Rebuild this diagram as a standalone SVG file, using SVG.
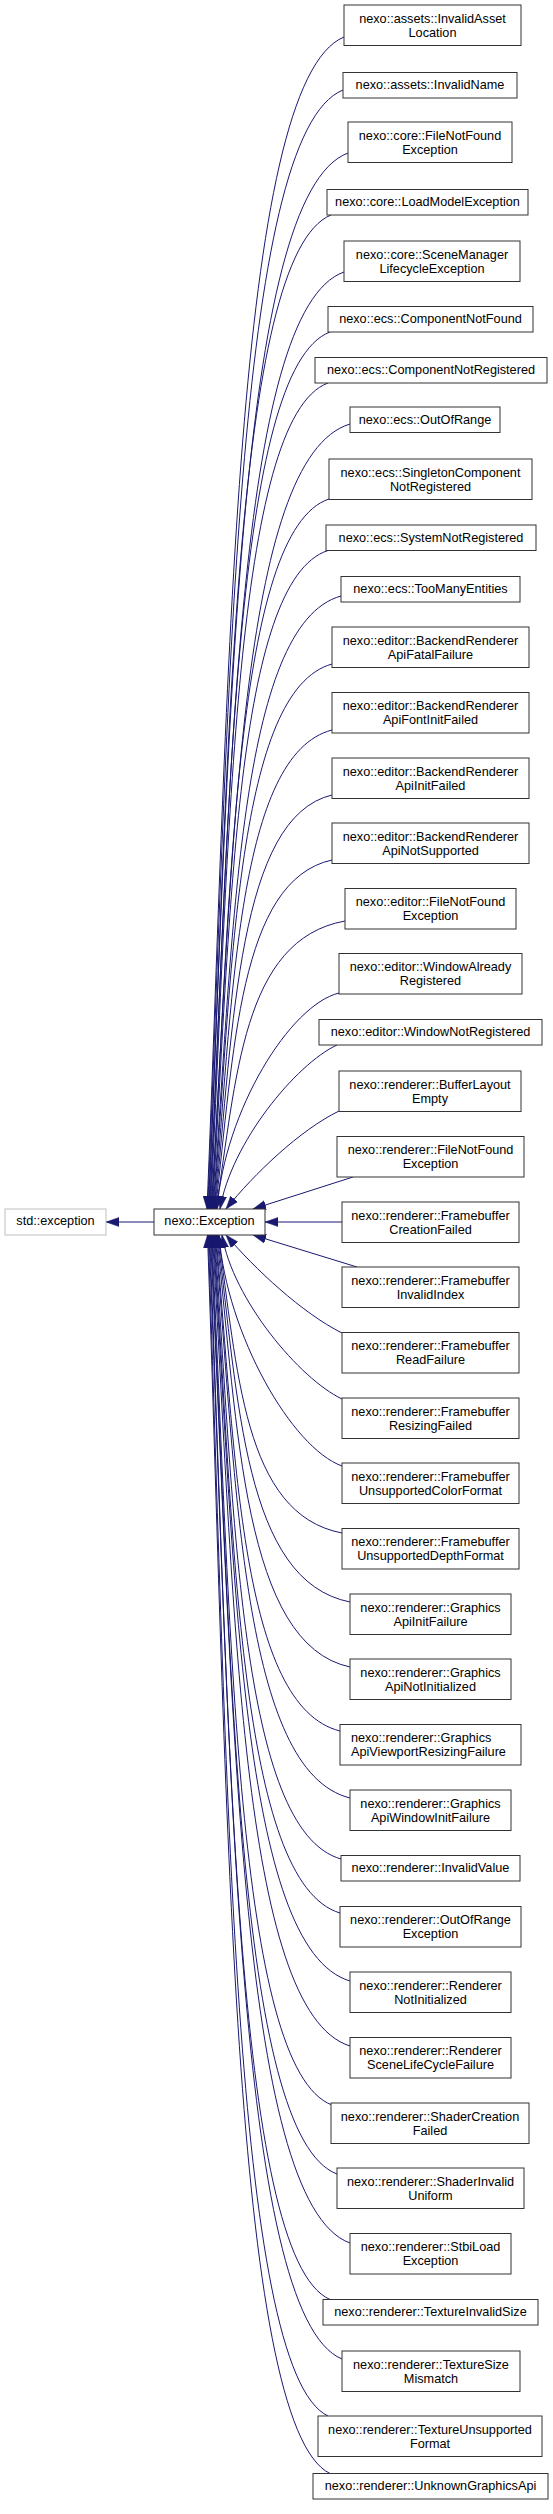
<svg xmlns="http://www.w3.org/2000/svg" width="553" height="2514" viewBox="0 0 553 2514">
<style>
.n{fill:#fff;stroke:#333;stroke-width:1}
.x{fill:#fff;stroke:#bfbfbf;stroke-width:1}
.t{font-family:"Liberation Sans",Arial,Helvetica,sans-serif;font-size:12.7px;fill:#000;text-anchor:middle}
.l{text-anchor:start}
.e path{fill:none;stroke:#191970;stroke-width:1;marker-end:url(#ah)}
</style>
<defs>
<marker id="ah" markerUnits="userSpaceOnUse" markerWidth="13" markerHeight="10" viewBox="0 0 13 10" refX="13" refY="5" orient="auto">
<path d="M0,0.5 L13,5 L0,9.5 z" fill="#191970" stroke="#191970" stroke-width="0.5"/>
</marker>
</defs>
<rect width="553" height="2514" fill="#fff"/>
<g class="e" id="edges">
<path d="M154,1222 L106,1222"/>
<path d="M344,37 C234.4,82.2 228.9,681.6 207,1209"/>
<path d="M343,90 C234.7,133.6 229.3,705.4 207.6,1209"/>
<path d="M348,153 C236.2,194.7 230.6,733.8 208.2,1209"/>
<path d="M331,215 C233.2,254.8 228.4,761.7 208.8,1209"/>
<path d="M344,272 C236.3,310.1 230.9,787.3 209.4,1209"/>
<path d="M330,332 C234,368.3 229.2,814.3 210,1209"/>
<path d="M328,383 C234.1,417.8 229.4,837.3 210.6,1209"/>
<path d="M350,424 C239,457.6 233.4,855.7 211.2,1209"/>
<path d="M329,499 C235.2,530.3 230.6,889.5 211.8,1209"/>
<path d="M328,550.5 C235.5,580.3 230.9,912.7 212.4,1209"/>
<path d="M341,596 C238.6,624.4 233.5,933.1 213,1209"/>
<path d="M332,664 C237.3,690.4 232.5,963.7 213.6,1209"/>
<path d="M332,730 C237.8,754.4 233,993.4 214.2,1209"/>
<path d="M332,795 C238.2,817.4 233.6,1022.7 214.8,1209"/>
<path d="M332,860 C238.7,880.5 234.1,1052 215.4,1209"/>
<path d="M345,921 C241.8,939.6 236.6,1079.4 216,1209"/>
<path d="M339,993 C290,1005 225,1110 217,1209"/>
<path d="M337,1045 C296,1064 231,1143 220,1209"/>
<path d="M339,1111 C300,1130 254,1174 226,1209"/>
<path d="M353,1177 L253,1209"/>
<path d="M342,1222 L265,1222"/>
<path d="M357,1267 L253,1235"/>
<path d="M342,1333 C302,1313 255,1269 226,1235"/>
<path d="M342,1399 C300,1379 233,1300 222,1235"/>
<path d="M342,1466 C292,1448 227,1335 219,1235"/>
<path d="M342,1533 C242.8,1514.1 237.8,1369.1 218,1235"/>
<path d="M350,1602 C243.8,1581 238.5,1400.2 217.3,1235"/>
<path d="M350,1667 C243.3,1644 238,1429.4 216.6,1235"/>
<path d="M340,1731 C240.7,1706.1 235.8,1458.2 215.9,1235"/>
<path d="M350,1798 C242.2,1771.1 236.8,1488.4 215.2,1235"/>
<path d="M341,1859 C239.8,1830.3 234.7,1515.8 214.5,1235"/>
<path d="M340,1913 C239,1882.7 234,1540.1 213.8,1235"/>
<path d="M350,1981 C240.5,1948.6 235,1570.7 213.1,1235"/>
<path d="M350,2046 C239.9,2011.7 234.4,1600 212.4,1235"/>
<path d="M332,2105 C235.8,2068.9 230.9,1626.5 211.7,1235"/>
<path d="M337,2174 C236.2,2135.8 231.2,1657.6 211,1235"/>
<path d="M350,2243 C238.2,2202.8 232.7,1688.6 210.3,1235"/>
<path d="M330,2299.5 C233.7,2257.6 228.9,1714 209.6,1235"/>
<path d="M342,2359 C235.5,2315.3 230.2,1740.8 208.9,1235"/>
<path d="M328,2416 C232.2,2370.6 227.4,1766.5 208.2,1235"/>
<path d="M330,2473.5 C232,2426.3 227.1,1792.3 207.5,1235"/>
</g>
<g id="std_exception"><rect class="x" x="5" y="1209" width="101" height="26"/><text class="t" x="55.5" y="1225.3">std::exception</text></g>
<g id="nexo_Exception"><rect class="n" x="154" y="1209" width="111" height="26"/><text class="t" x="209.5" y="1225.3">nexo::Exception</text></g>
<g id="node1"><rect class="n" x="344" y="5" width="177" height="40.5"/><text class="t" x="432.5" y="22.6">nexo::assets::InvalidAsset</text><text class="t" x="432.5" y="36.6">Location</text></g>
<g id="node2"><rect class="n" x="343" y="72.5" width="174" height="25.5"/><text class="t" x="430" y="89.3">nexo::assets::InvalidName</text></g>
<g id="node3"><rect class="n" x="348" y="122" width="164" height="40.5"/><text class="t" x="430" y="139.6">nexo::core::FileNotFound</text><text class="t" x="430" y="153.6">Exception</text></g>
<g id="node4"><rect class="n" x="327" y="189.5" width="201" height="25.5"/><text class="t" x="427.5" y="206.3">nexo::core::LoadModelException</text></g>
<g id="node5"><rect class="n" x="344" y="241" width="176" height="40.5"/><text class="t" x="432" y="258.6">nexo::core::SceneManager</text><text class="t" x="432" y="272.6">LifecycleException</text></g>
<g id="node6"><rect class="n" x="328" y="306.5" width="205" height="25.5"/><text class="t" x="430.5" y="323.3">nexo::ecs::ComponentNotFound</text></g>
<g id="node7"><rect class="n" x="315" y="357.5" width="232" height="25.5"/><text class="t" x="431" y="374.3">nexo::ecs::ComponentNotRegistered</text></g>
<g id="node8"><rect class="n" x="350" y="407" width="150" height="25.5"/><text class="t" x="425" y="423.8">nexo::ecs::OutOfRange</text></g>
<g id="node9"><rect class="n" x="329" y="459" width="203" height="40.5"/><text class="t" x="430.5" y="476.6">nexo::ecs::SingletonComponent</text><text class="t" x="430.5" y="490.6">NotRegistered</text></g>
<g id="node10"><rect class="n" x="326" y="525" width="210" height="25.5"/><text class="t" x="431" y="541.8">nexo::ecs::SystemNotRegistered</text></g>
<g id="node11"><rect class="n" x="341" y="576.5" width="179" height="25.5"/><text class="t" x="430.5" y="593.3">nexo::ecs::TooManyEntities</text></g>
<g id="node12"><rect class="n" x="332" y="627" width="197" height="40.5"/><text class="t" x="430.5" y="644.6">nexo::editor::BackendRenderer</text><text class="t" x="430.5" y="658.6">ApiFatalFailure</text></g>
<g id="node13"><rect class="n" x="332" y="692.5" width="197" height="40.5"/><text class="t" x="430.5" y="710.1">nexo::editor::BackendRenderer</text><text class="t" x="430.5" y="724.1">ApiFontInitFailed</text></g>
<g id="node14"><rect class="n" x="332" y="758" width="197" height="40.5"/><text class="t" x="430.5" y="775.6">nexo::editor::BackendRenderer</text><text class="t" x="430.5" y="789.6">ApiInitFailed</text></g>
<g id="node15"><rect class="n" x="332" y="823" width="197" height="40.5"/><text class="t" x="430.5" y="840.6">nexo::editor::BackendRenderer</text><text class="t" x="430.5" y="854.6">ApiNotSupported</text></g>
<g id="node16"><rect class="n" x="345" y="888.5" width="171" height="40.5"/><text class="t" x="430.5" y="906.1">nexo::editor::FileNotFound</text><text class="t" x="430.5" y="920.1">Exception</text></g>
<g id="node17"><rect class="n" x="339" y="953.5" width="183" height="40.5"/><text class="t" x="430.5" y="971.1">nexo::editor::WindowAlready</text><text class="t" x="430.5" y="985.1">Registered</text></g>
<g id="node18"><rect class="n" x="319" y="1019.5" width="223" height="25.5"/><text class="t" x="430.5" y="1036.3">nexo::editor::WindowNotRegistered</text></g>
<g id="node19"><rect class="n" x="339" y="1071" width="182" height="40.5"/><text class="t" x="430" y="1088.6">nexo::renderer::BufferLayout</text><text class="t" x="430" y="1102.6">Empty</text></g>
<g id="node20"><rect class="n" x="337" y="1136.5" width="187" height="40.5"/><text class="t" x="430.5" y="1154.1">nexo::renderer::FileNotFound</text><text class="t" x="430.5" y="1168.1">Exception</text></g>
<g id="node21"><rect class="n" x="342" y="1202" width="177" height="40.5"/><text class="t" x="430.5" y="1219.6">nexo::renderer::Framebuffer</text><text class="t" x="430.5" y="1233.6">CreationFailed</text></g>
<g id="node22"><rect class="n" x="342" y="1267" width="177" height="40.5"/><text class="t" x="430.5" y="1284.6">nexo::renderer::Framebuffer</text><text class="t" x="430.5" y="1298.6">InvalidIndex</text></g>
<g id="node23"><rect class="n" x="342" y="1332.5" width="177" height="40.5"/><text class="t" x="430.5" y="1350.1">nexo::renderer::Framebuffer</text><text class="t" x="430.5" y="1364.1">ReadFailure</text></g>
<g id="node24"><rect class="n" x="342" y="1398" width="177" height="40.5"/><text class="t" x="430.5" y="1415.6">nexo::renderer::Framebuffer</text><text class="t" x="430.5" y="1429.6">ResizingFailed</text></g>
<g id="node25"><rect class="n" x="342" y="1463" width="177" height="40.5"/><text class="t" x="430.5" y="1480.6">nexo::renderer::Framebuffer</text><text class="t" x="430.5" y="1494.6">UnsupportedColorFormat</text></g>
<g id="node26"><rect class="n" x="342" y="1528.5" width="177" height="40.5"/><text class="t" x="430.5" y="1546.1">nexo::renderer::Framebuffer</text><text class="t" x="430.5" y="1560.1">UnsupportedDepthFormat</text></g>
<g id="node27"><rect class="n" x="350" y="1594" width="161" height="40.5"/><text class="t" x="430.5" y="1611.6">nexo::renderer::Graphics</text><text class="t" x="430.5" y="1625.6">ApiInitFailure</text></g>
<g id="node28"><rect class="n" x="350" y="1659" width="161" height="40.5"/><text class="t" x="430.5" y="1676.6">nexo::renderer::Graphics</text><text class="t" x="430.5" y="1690.6">ApiNotInitialized</text></g>
<g id="node29"><rect class="n" x="340" y="1724.5" width="181" height="40.5"/><text class="t l" x="351" y="1742.1">nexo::renderer::Graphics</text><text class="t l" x="351" y="1756.1">ApiViewportResizingFailure</text></g>
<g id="node30"><rect class="n" x="350" y="1790" width="161" height="40.5"/><text class="t" x="430.5" y="1807.6">nexo::renderer::Graphics</text><text class="t" x="430.5" y="1821.6">ApiWindowInitFailure</text></g>
<g id="node31"><rect class="n" x="341" y="1855.5" width="179" height="25.5"/><text class="t" x="430.5" y="1872.3">nexo::renderer::InvalidValue</text></g>
<g id="node32"><rect class="n" x="340" y="1906.5" width="181" height="40.5"/><text class="t" x="430.5" y="1924.1">nexo::renderer::OutOfRange</text><text class="t" x="430.5" y="1938.1">Exception</text></g>
<g id="node33"><rect class="n" x="350" y="1972" width="161" height="40.5"/><text class="t" x="430.5" y="1989.6">nexo::renderer::Renderer</text><text class="t" x="430.5" y="2003.6">NotInitialized</text></g>
<g id="node34"><rect class="n" x="350" y="2037.5" width="161" height="40.5"/><text class="t" x="430.5" y="2055.1">nexo::renderer::Renderer</text><text class="t" x="430.5" y="2069.1">SceneLifeCycleFailure</text></g>
<g id="node35"><rect class="n" x="331" y="2103" width="198" height="40.5"/><text class="t" x="430" y="2120.6">nexo::renderer::ShaderCreation</text><text class="t" x="430" y="2134.6">Failed</text></g>
<g id="node36"><rect class="n" x="337" y="2168" width="187" height="40.5"/><text class="t" x="430.5" y="2185.6">nexo::renderer::ShaderInvalid</text><text class="t" x="430.5" y="2199.6">Uniform</text></g>
<g id="node37"><rect class="n" x="350" y="2233.5" width="161" height="40.5"/><text class="t" x="430.5" y="2251.1">nexo::renderer::StbiLoad</text><text class="t" x="430.5" y="2265.1">Exception</text></g>
<g id="node38"><rect class="n" x="323" y="2299.5" width="215" height="25.5"/><text class="t" x="430.5" y="2316.3">nexo::renderer::TextureInvalidSize</text></g>
<g id="node39"><rect class="n" x="342" y="2351" width="178" height="40.5"/><text class="t" x="431" y="2368.6">nexo::renderer::TextureSize</text><text class="t" x="431" y="2382.6">Mismatch</text></g>
<g id="node40"><rect class="n" x="318" y="2416" width="224" height="40.5"/><text class="t" x="430" y="2433.6">nexo::renderer::TextureUnsupported</text><text class="t" x="430" y="2447.6">Format</text></g>
<g id="node41"><rect class="n" x="313" y="2473.5" width="235" height="25.5"/><text class="t" x="430.5" y="2490.3">nexo::renderer::UnknownGraphicsApi</text></g>
</svg>
